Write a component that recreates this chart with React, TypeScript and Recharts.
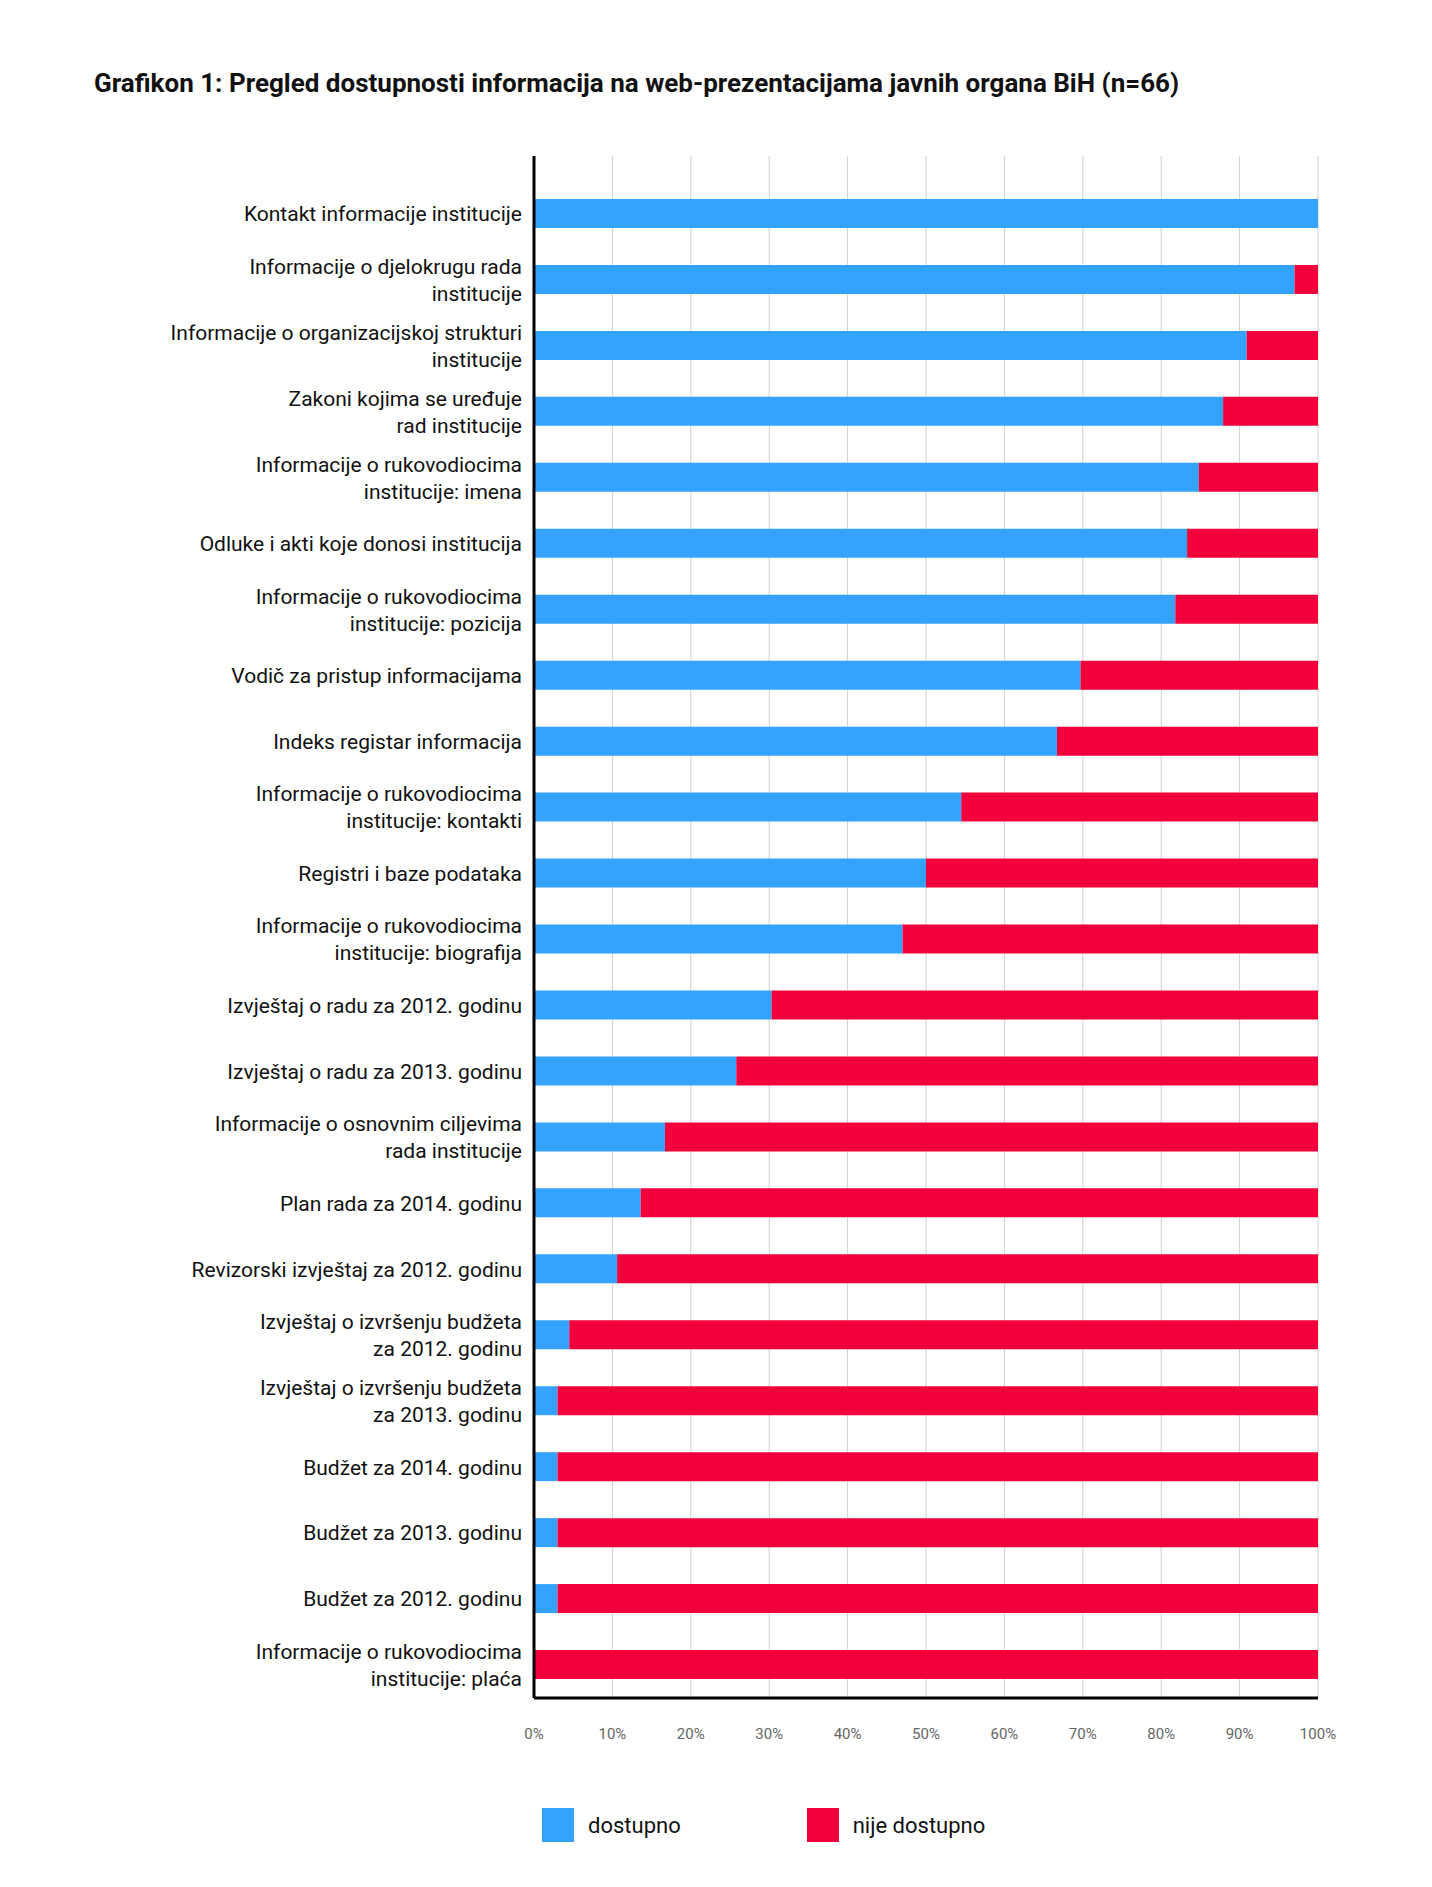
import React from "react";
import { BarChart, Bar, XAxis, YAxis, CartesianGrid } from "recharts";

const categories = [
  "Kontakt informacije institucije",
  "Informacije o djelokrugu rada\ninstitucije",
  "Informacije o organizacijskoj strukturi\ninstitucije",
  "Zakoni kojima se uređuje\nrad institucije",
  "Informacije o rukovodiocima\ninstitucije: imena",
  "Odluke i akti koje donosi institucija",
  "Informacije o rukovodiocima\ninstitucije: pozicija",
  "Vodič za pristup informacijama",
  "Indeks registar informacija",
  "Informacije o rukovodiocima\ninstitucije: kontakti",
  "Registri i baze podataka",
  "Informacije o rukovodiocima\ninstitucije: biografija",
  "Izvještaj o radu za 2012. godinu",
  "Izvještaj o radu za 2013. godinu",
  "Informacije o osnovnim ciljevima\nrada institucije",
  "Plan rada za 2014. godinu",
  "Revizorski izvještaj za 2012. godinu",
  "Izvještaj o izvršenju budžeta\nza 2012. godinu",
  "Izvještaj o izvršenju budžeta\nza 2013. godinu",
  "Budžet za 2014. godinu",
  "Budžet za 2013. godinu",
  "Budžet za 2012. godinu",
  "Informacije o rukovodiocima\ninstitucije: plaća",
];
const dostupno = [100, 97, 90.9, 87.9, 84.8, 83.3, 81.8, 69.7, 66.7, 54.5, 50, 47, 30.3, 25.8, 16.7, 13.6, 10.6, 4.5, 3, 3, 3, 3, 0];
const xTicks = [0, 10, 20, 30, 40, 50, 60, 70, 80, 90, 100];

const data = categories.map((c, i) => ({ name: c, d: dostupno[i], n: +(100 - dostupno[i]).toFixed(1) }));

const BLUE = "#33a3ff";
const RED = "#f2003c";
const FONT = "Roboto, 'Liberation Sans', sans-serif";

const YTick = (props: any) => {
  const { x, y, payload } = props;
  const lines = String(payload.value).split("\n");
  const lh = 27;
  const start = y - ((lines.length - 1) * lh) / 2;
  return (
    <text x={x - 4} textAnchor="end" fontSize={21} fill="#111" fontFamily={FONT}>
      {lines.map((l, i) => (
        <tspan key={i} x={x - 4} y={start + i * lh} dy="0.35em">{l}</tspan>
      ))}
    </text>
  );
};

export default function App() {
  return (
    <div style={{ position: "relative", width: 1416, height: 1870, background: "#fff", fontFamily: FONT }}>
      <div style={{ position: "absolute", left: 86, top: 60, fontSize: 26, fontWeight: 700, color: "#111" }}>
        Grafikon 1: Pregled dostupnosti informacija na web-prezentacijama javnih organa BiH (n=66)
      </div>
      <BarChart
        width={1416}
        height={1760}
        data={data}
        layout="vertical"
        margin={{ top: 148, right: 106, bottom: 30, left: 0 }}
        barSize={29}
      >
        <CartesianGrid horizontal={false} stroke="#d0d0d0" />
        <XAxis
          type="number"
          domain={[0, 100]}
          ticks={xTicks}
          tickFormatter={(v) => `${v}%`}
          axisLine={{ stroke: "#000", strokeWidth: 3 }}
          tickLine={false}
          height={40}
          tick={{ fontSize: 15, fill: "#666", fontFamily: FONT, dy: 22 }}
        />
        <YAxis
          type="category"
          dataKey="name"
          width={526}
          padding={{ top: 25, bottom: 0 }}
          axisLine={{ stroke: "#000", strokeWidth: 3 }}
          tickLine={false}
          tick={<YTick />}
          interval={0}
        />
        <Bar dataKey="d" stackId="a" fill={BLUE} isAnimationActive={false} />
        <Bar dataKey="n" stackId="a" fill={RED} isAnimationActive={false} />
      </BarChart>
      <div style={{ position: "absolute", left: 534, top: 1800, display: "flex", alignItems: "center", fontSize: 22, color: "#111" }}>
        <span style={{ width: 32, height: 34, background: BLUE, display: "inline-block", marginRight: 14 }} />
        <span style={{ marginRight: 126 }}>dostupno</span>
        <span style={{ width: 32, height: 34, background: RED, display: "inline-block", marginRight: 14 }} />
        <span>nije dostupno</span>
      </div>
    </div>
  );
}
